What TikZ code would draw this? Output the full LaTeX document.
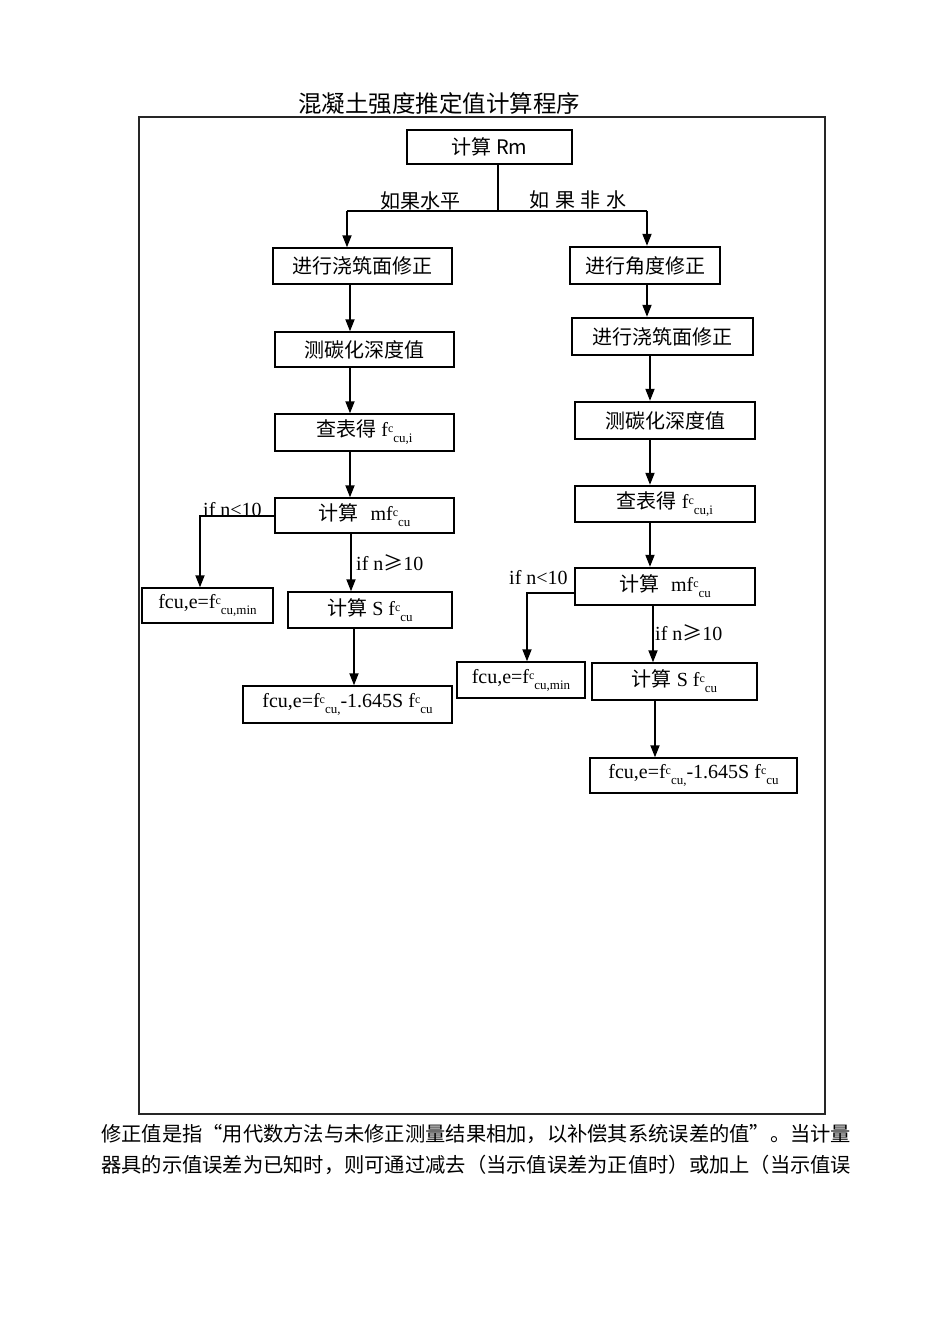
\documentclass[tikz,border=0pt]{standalone}
\usepackage{fontspec}
\setmainfont{Liberation Serif}
\newfontfamily\cjk{Noto Sans CJK SC}
\usetikzlibrary{arrows.meta}
\newcommand{\fcsub}[1]{f\raisebox{4pt}{\fontsize{12}{12}\selectfont c}\raisebox{-6pt}{\fontsize{13}{13}\selectfont #1}}
\tikzset{
  bx/.style={draw, line width=1.4pt, inner sep=0pt, font=\fontsize{20}{22}\selectfont},
  tbx/.style={bx, line width=2.4pt},
  arr/.style={line width=1.8pt, -{Triangle[length=12pt,width=9pt]}},
  ln/.style={line width=1.6pt},
  lbl/.style={inner sep=0pt, font=\fontsize{20}{22}\selectfont},
  para/.style={inner sep=0pt, anchor=west, font=\cjk\fontsize{20.27}{22}\selectfont},
}
\begin{document}
\begin{tikzpicture}[x=1pt, y=-1pt]
\useasboundingbox[fill=white] (0,0) rectangle (950,1344);
% title and frame
\node[inner sep=0pt, font=\cjk\fontsize{23.5}{26}\selectfont] (title) at (439,104) {混凝土强度推定值计算程序};
\draw[line width=1.2pt, black!85] (139,117) rectangle (825,1114);

% top box
\node[tbx, minimum width=165pt, minimum height=34pt] (Rm) at (489.5,147) {\cjk 计算 Rm};

% left column
\node[bx, minimum width=179pt, minimum height=36pt] (L1) at (362.5,266) {\cjk 进行浇筑面修正};
\node[bx, minimum width=179pt, minimum height=35pt] (L2) at (364.5,349.5) {\cjk 测碳化深度值};
\node[bx, minimum width=179pt, minimum height=37pt] (L3) at (364.5,432.5) {{\cjk 查表得} \fcsub{cu,i}};
\node[bx, minimum width=179pt, minimum height=35pt] (L4) at (364.5,515.5) {{\cjk 计算}\hspace{12pt}m\fcsub{cu}};
\node[bx, minimum width=131pt, minimum height=35pt] (L5) at (207.5,605.5) {fcu,e=\fcsub{cu,min}};
\node[bx, minimum width=164pt, minimum height=36pt] (L6) at (370,610) {{\cjk 计算} S \fcsub{cu}};
\node[bx, minimum width=209pt, minimum height=37pt] (L7) at (347.5,704.5) {fcu,e=\fcsub{cu,}-1.645S \fcsub{cu}};

% right column
\node[tbx, minimum width=150pt, minimum height=37pt] (R1) at (645,265.5) {\cjk 进行角度修正};
\node[tbx, minimum width=181pt, minimum height=37pt] (R2) at (662.5,336.5) {\cjk 进行浇筑面修正};
\node[tbx, minimum width=180pt, minimum height=37pt] (R3) at (665,420.5) {\cjk 测碳化深度值};
\node[tbx, minimum width=180pt, minimum height=36pt] (R4) at (665,504) {{\cjk 查表得} \fcsub{cu,i}};
\node[tbx, minimum width=180pt, minimum height=37pt] (R5) at (665,586.5) {{\cjk 计算}\hspace{12pt}m\fcsub{cu}};
\node[bx, minimum width=128pt, minimum height=36pt] (R6) at (521,680) {fcu,e=\fcsub{cu,min}};
\node[bx, minimum width=165pt, minimum height=37pt] (R7) at (674.5,681.5) {{\cjk 计算} S \fcsub{cu}};
\node[bx, minimum width=207pt, minimum height=35pt] (R8) at (693.5,775.5) {fcu,e=\fcsub{cu,}-1.645S \fcsub{cu}};

% helper coordinates
\coordinate (xtop) at (498,0);
\coordinate (split) at (498,211);
\coordinate (spL) at (347,211);
\coordinate (spR) at (647,211);
\coordinate (xl1) at (350,0);
\coordinate (xl2) at (351,0);
\coordinate (xl3) at (354,0);
\coordinate (bl) at (200,516);
\coordinate (xr1) at (647,0);
\coordinate (xr2) at (650,0);
\coordinate (xr3) at (653,0);
\coordinate (xr4) at (655,0);
\coordinate (yr) at (0,593);
\coordinate (br) at (527,593);

% top split
\draw[ln] (Rm.south -| xtop) -- (split);
\draw[ln] (spL) -- (spR);
\draw[arr] (spL) -- (L1.north -| spL);
\draw[arr] (spR) -- (R1.north -| spR);
\node[lbl] (labL) at (420,201) {\cjk 如果水平};
\node[lbl] (labR) at (578,200) {\cjk 如\hspace{5.5pt}果\hspace{5.5pt}非\hspace{5.5pt}水};

% left arrows
\draw[arr] (L1.south -| xl1) -- (L2.north -| xl1);
\draw[arr] (L2.south -| xl1) -- (L3.north -| xl1);
\draw[arr] (L3.south -| xl1) -- (L4.north -| xl1);
\draw[arr] (L4.south -| xl2) -- (L6.north -| xl2);
\draw[arr] (L6.south -| xl3) -- (L7.north -| xl3);
\draw[arr] (L4.west |- bl) -- (bl) -- (L5.north -| bl);
\node[lbl, anchor=west] (ifL1) at (203,510) {if n<10};
\node[lbl, anchor=west] (ifL2) at (356,563) {if n{\cjk ≥}10};

% right arrows
\draw[arr] (R1.south -| xr1) -- (R2.north -| xr1);
\draw[arr] (R2.south -| xr2) -- (R3.north -| xr2);
\draw[arr] (R3.south -| xr2) -- (R4.north -| xr2);
\draw[arr] (R4.south -| xr2) -- (R5.north -| xr2);
\draw[arr] (R5.south -| xr3) -- (R7.north -| xr3);
\draw[arr] (R7.south -| xr4) -- (R8.north -| xr4);
\draw[arr] (R5.west |- br) -- (br) -- (R6.north -| br);
\node[lbl, anchor=west] (ifR1) at (509,578) {if n<10};
\node[lbl, anchor=west] (ifR2) at (655,633) {if n{\cjk ≥}10};

% paragraph below
\node[para] (p1) at (101,1134) {修正值是指“用代数方法与未修正测量结果相加，以补偿其系统误差的值”。当计量};
\node[para] (p2) at (101,1165) {器具的示值误差为已知时，则可通过减去（当示值误差为正值时）或加上（当示值误};
\end{tikzpicture}
\end{document}
